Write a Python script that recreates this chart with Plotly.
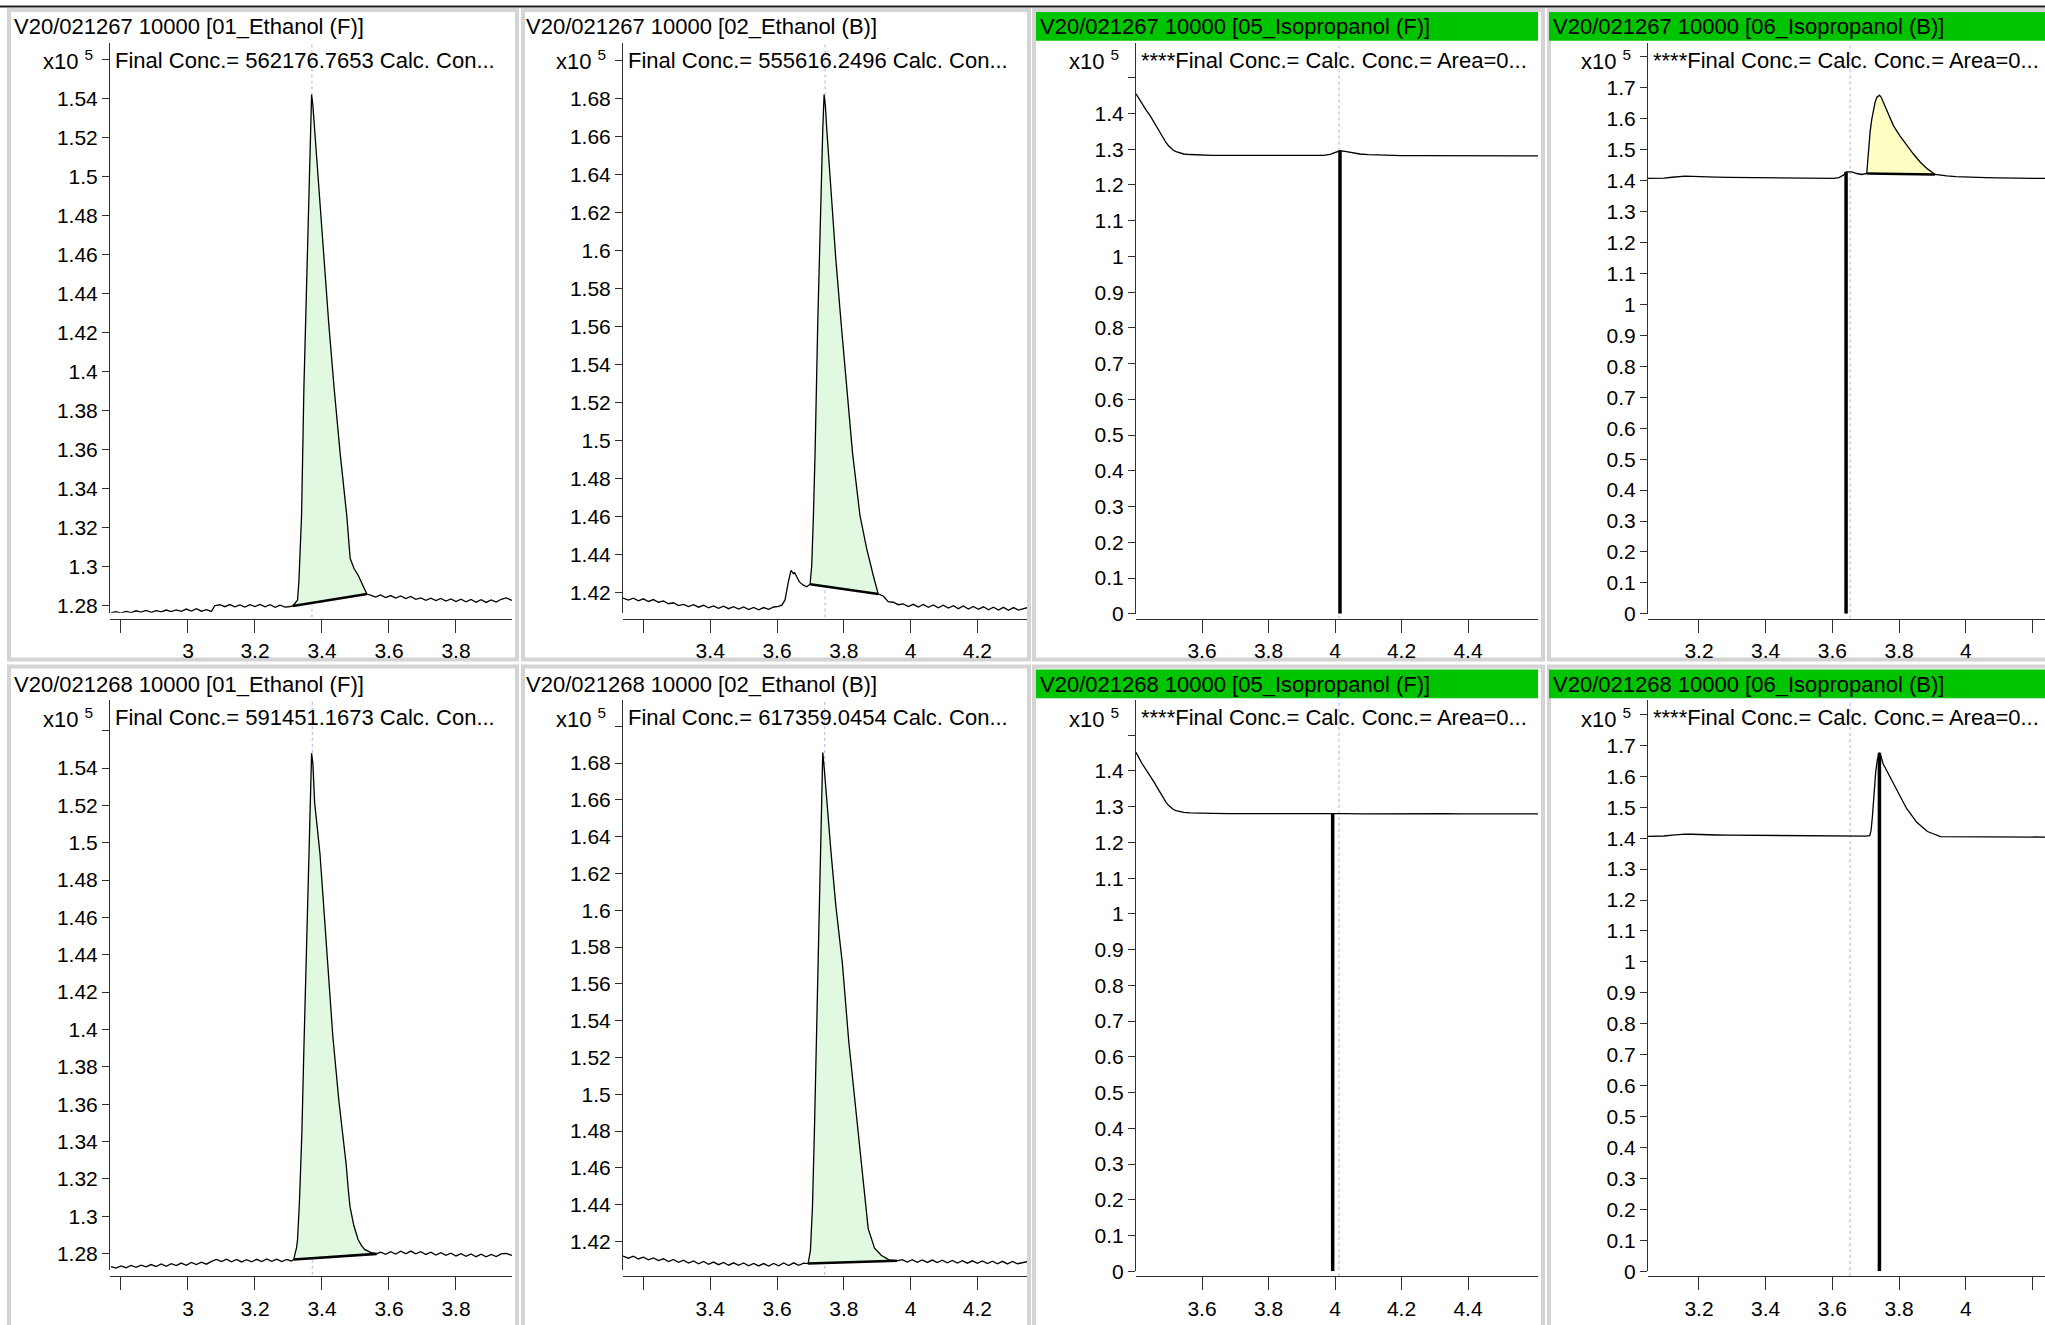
import plotly.graph_objects as go

W, H = 2045, 1325
FONT = "Liberation Sans, Arial, sans-serif"
FS = 22
FS_TICK = 21

# ------------------------------------------------------------------ text
sample_ids = ["V20/021267 10000", "V20/021268 10000"]
compounds = ["01_Ethanol (F)", "02_Ethanol (B)", "05_Isopropanol (F)", "06_Isopropanol (B)"]
info_texts = [
    ["Final Conc.= 562176.7653 Calc. Con...", "Final Conc.= 555616.2496 Calc. Con...",
     "****Final Conc.= Calc. Conc.= Area=0...", "****Final Conc.= Calc. Conc.= Area=0..."],
    ["Final Conc.= 591451.1673 Calc. Con...", "Final Conc.= 617359.0454 Calc. Con...",
     "****Final Conc.= Calc. Conc.= Area=0...", "****Final Conc.= Calc. Conc.= Area=0..."],
]
scale_label = "x10 <sup>5</sup>"

# ------------------------------------------------------------------ data (counts x10^5 vs minutes)
# --- 021267, 01_Ethanol (F)
e1a_pre_x = [2.770, 2.785, 2.800, 2.815, 2.830, 2.845, 2.860, 2.875, 2.890, 2.905, 2.920, 2.935, 2.950,
             2.965, 2.980, 2.995, 3.010, 3.025, 3.040, 3.055, 3.070, 3.080, 3.095, 3.110, 3.125, 3.140,
             3.155, 3.170, 3.185, 3.200, 3.215, 3.230, 3.245, 3.260, 3.275, 3.290, 3.305]
e1a_pre_y = [1.2764, 1.2771, 1.2763, 1.2772, 1.2766, 1.2775, 1.2768, 1.2777, 1.2767, 1.2776, 1.2770,
             1.2779, 1.2771, 1.2780, 1.2772, 1.2784, 1.2774, 1.2786, 1.2773, 1.2781, 1.2772, 1.2801,
             1.2806, 1.2796, 1.2807, 1.2795, 1.2805, 1.2794, 1.2806, 1.2797, 1.2808, 1.2795, 1.2806,
             1.2793, 1.2804, 1.2794, 1.2797]
e1a_pk_x = [3.313, 3.320, 3.327, 3.331, 3.334, 3.339, 3.346, 3.352, 3.357, 3.362, 3.366, 3.369, 3.373,
            3.378, 3.386, 3.394, 3.407, 3.420, 3.436, 3.454, 3.474, 3.484, 3.496, 3.508, 3.520, 3.534]
e1a_pk_y = [1.2800, 1.2815, 1.2830, 1.2923, 1.3093, 1.3262, 1.3917, 1.4340, 1.4711, 1.5030, 1.5290,
            1.5419, 1.5360, 1.5240, 1.5080, 1.4910, 1.4580, 1.4250, 1.3920, 1.3585, 1.3262, 1.3044,
            1.2990, 1.2957, 1.2912, 1.2861]
e1a_post_x = [3.545, 3.560, 3.575, 3.590, 3.605, 3.620, 3.635, 3.650, 3.665, 3.680, 3.695, 3.710, 3.725,
              3.740, 3.755, 3.770, 3.785, 3.800, 3.815, 3.830, 3.845, 3.860, 3.875, 3.890, 3.905, 3.920,
              3.935, 3.950, 3.967]
e1a_post_y = [1.2855, 1.2845, 1.2856, 1.2843, 1.2853, 1.2840, 1.2851, 1.2838, 1.2849, 1.2834, 1.2841,
              1.2829, 1.2840, 1.2827, 1.2838, 1.2825, 1.2836, 1.2822, 1.2834, 1.2821, 1.2833, 1.2819,
              1.2832, 1.2818, 1.2831, 1.2820, 1.2834, 1.2841, 1.2828]

# --- 021268, 01_Ethanol (F)
e1b_pre_x = [2.770, 2.785, 2.800, 2.815, 2.830, 2.845, 2.860, 2.875, 2.890, 2.905, 2.920, 2.935, 2.950,
             2.965, 2.980, 2.995, 3.010, 3.025, 3.040, 3.055, 3.070, 3.085, 3.100, 3.115, 3.130, 3.145,
             3.160, 3.175, 3.190, 3.205, 3.220, 3.235, 3.250, 3.265, 3.280, 3.295, 3.308]
e1b_pre_y = [1.2730, 1.2722, 1.2734, 1.2724, 1.2736, 1.2726, 1.2738, 1.2729, 1.2741, 1.2730, 1.2744,
             1.2732, 1.2746, 1.2735, 1.2749, 1.2737, 1.2752, 1.2741, 1.2754, 1.2743, 1.2758, 1.2768,
             1.2757, 1.2770, 1.2756, 1.2768, 1.2755, 1.2767, 1.2756, 1.2769, 1.2757, 1.2771, 1.2758,
             1.2770, 1.2757, 1.2768, 1.2760]
e1b_pk_x = [3.316, 3.319, 3.324, 3.327, 3.330, 3.332, 3.334, 3.340, 3.346, 3.352, 3.357, 3.362, 3.366,
            3.369, 3.373, 3.378, 3.386, 3.394, 3.405, 3.420, 3.432, 3.450, 3.472, 3.4786, 3.4836, 3.495,
            3.508, 3.518, 3.528, 3.545, 3.563]
e1b_pk_y = [1.2768, 1.2795, 1.2830, 1.2874, 1.2960, 1.3051, 1.3140, 1.3450, 1.3900, 1.4330, 1.4700,
            1.5020, 1.5290, 1.5479, 1.5420, 1.5216, 1.5080, 1.4940, 1.4663, 1.4248, 1.3972, 1.3625,
            1.3280, 1.3140, 1.3051, 1.2950, 1.2874, 1.2842, 1.2821, 1.2806, 1.2798]
e1b_post_x = [3.575, 3.590, 3.605, 3.620, 3.635, 3.650, 3.665, 3.680, 3.695, 3.710, 3.725, 3.740, 3.755,
              3.770, 3.785, 3.800, 3.815, 3.830, 3.845, 3.860, 3.875, 3.890, 3.905, 3.920, 3.935, 3.950,
              3.967]
e1b_post_y = [1.2807, 1.2796, 1.2810, 1.2797, 1.2812, 1.2799, 1.2813, 1.2798, 1.2810, 1.2795, 1.2807,
              1.2792, 1.2804, 1.2790, 1.2802, 1.2787, 1.2799, 1.2785, 1.2798, 1.2783, 1.2796, 1.2782,
              1.2795, 1.2784, 1.2798, 1.2801, 1.2790]

# --- 021267, 02_Ethanol (B)
e2a_pre_x = [3.139, 3.155, 3.170, 3.185, 3.200, 3.215, 3.230, 3.245, 3.260, 3.275, 3.290, 3.305, 3.320,
             3.335, 3.350, 3.365, 3.380, 3.395, 3.410, 3.425, 3.440, 3.455, 3.470, 3.485, 3.500, 3.515,
             3.530, 3.545, 3.560, 3.575, 3.590, 3.605, 3.615, 3.624, 3.634, 3.642, 3.649, 3.653, 3.659,
             3.667, 3.679, 3.689]
e2a_pre_y = [1.4171, 1.4160, 1.4170, 1.4156, 1.4167, 1.4153, 1.4163, 1.4149, 1.4156, 1.4141, 1.4146,
             1.4131, 1.4138, 1.4126, 1.4136, 1.4123, 1.4133, 1.4120, 1.4130, 1.4117, 1.4128, 1.4115,
             1.4126, 1.4113, 1.4124, 1.4110, 1.4122, 1.4109, 1.4121, 1.4112, 1.4124, 1.4127, 1.4135,
             1.4161, 1.4256, 1.4317, 1.4300, 1.4305, 1.4283, 1.4256, 1.4239, 1.4230]
e2a_pk_x = [3.699, 3.704, 3.709, 3.714, 3.722, 3.729, 3.737, 3.741, 3.745, 3.749, 3.762, 3.776, 3.792,
            3.808, 3.826, 3.8485, 3.8685, 3.888, 3.903]
e2a_pk_y = [1.4244, 1.4344, 1.4605, 1.4937, 1.5618, 1.6162, 1.6639, 1.6823, 1.6760, 1.6639, 1.6299,
            1.5958, 1.5618, 1.5277, 1.4937, 1.4605, 1.4431, 1.4291, 1.4192]
e2a_post_x = [3.918, 3.933, 3.948, 3.963, 3.978, 3.993, 4.008, 4.023, 4.038, 4.053, 4.068, 4.083, 4.098,
              4.113, 4.128, 4.143, 4.158, 4.173, 4.188, 4.203, 4.218, 4.233, 4.248, 4.263, 4.278, 4.293,
              4.308, 4.323, 4.3485]
e2a_post_y = [1.4182, 1.4152, 1.4149, 1.4136, 1.4140, 1.4126, 1.4138, 1.4124, 1.4137, 1.4122, 1.4135,
              1.4120, 1.4133, 1.4118, 1.4131, 1.4115, 1.4129, 1.4113, 1.4127, 1.4112, 1.4125, 1.4109,
              1.4123, 1.4108, 1.4122, 1.4107, 1.4121, 1.4108, 1.4120]

# --- 021268, 02_Ethanol (B)
e2b_pre_x = [3.139, 3.155, 3.170, 3.185, 3.200, 3.215, 3.230, 3.245, 3.260, 3.275, 3.290, 3.305, 3.320,
             3.335, 3.350, 3.365, 3.380, 3.395, 3.410, 3.425, 3.440, 3.455, 3.470, 3.485, 3.500, 3.515,
             3.530, 3.545, 3.560, 3.575, 3.590, 3.605, 3.620, 3.635, 3.650, 3.665, 3.680]
e2b_pre_y = [1.4121, 1.4109, 1.4120, 1.4105, 1.4115, 1.4100, 1.4111, 1.4096, 1.4106, 1.4091, 1.4102,
             1.4087, 1.4098, 1.4083, 1.4094, 1.4079, 1.4091, 1.4076, 1.4088, 1.4074, 1.4086, 1.4071,
             1.4084, 1.4070, 1.4083, 1.4068, 1.4081, 1.4067, 1.4080, 1.4066, 1.4081, 1.4068, 1.4083,
             1.4069, 1.4084, 1.4070, 1.4082]
e2b_pk_x = [3.693, 3.700, 3.706, 3.712, 3.718, 3.726, 3.733, 3.737, 3.741, 3.749, 3.762, 3.776, 3.796,
            3.815, 3.835, 3.854, 3.873, 3.892, 3.912, 3.935, 3.959]
e2b_pk_y = [1.4080, 1.4150, 1.4380, 1.4800, 1.5325, 1.6028, 1.6590, 1.6857, 1.6780, 1.6590, 1.6309,
            1.6028, 1.5706, 1.5284, 1.4932, 1.4581, 1.4270, 1.4164, 1.4125, 1.4100, 1.4095]
e2b_post_x = [3.975, 3.990, 4.005, 4.020, 4.035, 4.050, 4.065, 4.080, 4.095, 4.110, 4.125, 4.140, 4.155,
              4.170, 4.185, 4.200, 4.215, 4.230, 4.245, 4.260, 4.275, 4.290, 4.305, 4.320, 4.3485]
e2b_post_y = [1.4101, 1.4088, 1.4101, 1.4087, 1.4100, 1.4086, 1.4099, 1.4085, 1.4098, 1.4084, 1.4097,
              1.4083, 1.4096, 1.4082, 1.4095, 1.4081, 1.4094, 1.4080, 1.4093, 1.4079, 1.4092, 1.4078,
              1.4091, 1.4079, 1.4090]

# --- 021267, 05_Isopropanol (F)  (no integrated peak)
i5a_x = [3.4015, 3.410, 3.420, 3.432, 3.444, 3.455, 3.465, 3.475, 3.484, 3.492, 3.500, 3.507, 3.514,
         3.522, 3.530, 3.545, 3.564, 3.590, 3.630, 3.680, 3.730, 3.780, 3.830, 3.880, 3.930, 3.965,
         3.985, 4.000, 4.015, 4.030, 4.050, 4.075, 4.100, 4.150, 4.200, 4.260, 4.320, 4.380, 4.440,
         4.500, 4.560, 4.6105]
i5a_y = [1.455, 1.441, 1.425, 1.409, 1.394, 1.376, 1.360, 1.344, 1.329, 1.318, 1.309, 1.302, 1.297,
         1.293, 1.290, 1.2865, 1.285, 1.2835, 1.2828, 1.2825, 1.2822, 1.2820, 1.2818, 1.2817, 1.2818,
         1.2825, 1.2855, 1.2910, 1.2955, 1.2940, 1.2900, 1.2865, 1.2845, 1.2830, 1.2822, 1.2818,
         1.2815, 1.2813, 1.2812, 1.2812, 1.2811, 1.2810]

# --- 021268, 05_Isopropanol (F)
i5b_x = [3.4015, 3.410, 3.420, 3.432, 3.444, 3.455, 3.465, 3.475, 3.484, 3.492, 3.500, 3.507, 3.514,
         3.522, 3.530, 3.545, 3.564, 3.590, 3.630, 3.680, 3.730, 3.780, 3.830, 3.880, 3.930, 3.980,
         4.030, 4.080, 4.130, 4.180, 4.230, 4.280, 4.330, 4.380, 4.430, 4.480, 4.530, 4.580, 4.6105]
i5b_y = [1.452, 1.437, 1.420, 1.403, 1.387, 1.370, 1.354, 1.338, 1.323, 1.312, 1.303, 1.297, 1.292,
         1.289, 1.287, 1.284, 1.2828, 1.2818, 1.2812, 1.2808, 1.2810, 1.2805, 1.2808, 1.2803, 1.2806,
         1.2802, 1.2805, 1.2801, 1.2804, 1.2800, 1.2803, 1.2799, 1.2802, 1.2798, 1.2801, 1.2799,
         1.2801, 1.2798, 1.2800]

# --- 021267, 06_Isopropanol (B)
i6a_pre_x = [3.0471, 3.070, 3.095, 3.120, 3.140, 3.158, 3.180, 3.210, 3.250, 3.290, 3.323, 3.370, 3.420,
             3.470, 3.520, 3.570, 3.603, 3.620, 3.633, 3.643, 3.650, 3.658, 3.673, 3.688]
i6a_pre_y = [1.4071, 1.4074, 1.4080, 1.4110, 1.4140, 1.4145, 1.4138, 1.4120, 1.4112, 1.4106, 1.4103,
             1.4098, 1.4092, 1.4088, 1.4082, 1.4076, 1.4071, 1.4100, 1.4177, 1.4284, 1.4295, 1.4284,
             1.4231, 1.4199]
i6a_pk_x = [3.703, 3.708, 3.713, 3.718, 3.723, 3.728, 3.733, 3.737, 3.741, 3.746, 3.753, 3.767, 3.783,
            3.803, 3.823, 3.843, 3.863, 3.885, 3.908]
i6a_pk_y = [1.4231, 1.4926, 1.5567, 1.5980, 1.6314, 1.6530, 1.6688, 1.6745, 1.6763, 1.6700, 1.6528,
            1.6130, 1.5780, 1.5440, 1.5138, 1.4860, 1.4605, 1.4380, 1.4199]
i6a_post_x = [3.925, 3.943, 3.970, 4.000, 4.023, 4.060, 4.100, 4.150, 4.200, 4.2375]
i6a_post_y = [1.4172, 1.4156, 1.4130, 1.4112, 1.4103, 1.4095, 1.4088, 1.4082, 1.4076, 1.4071]

# --- 021268, 06_Isopropanol (B)  (no integrated peak)
i6b_x = [3.0471, 3.070, 3.095, 3.120, 3.140, 3.158, 3.180, 3.210, 3.250, 3.290, 3.330, 3.380, 3.430,
         3.480, 3.530, 3.580, 3.630, 3.670, 3.700, 3.712, 3.716, 3.720, 3.725, 3.730, 3.735, 3.739,
         3.741, 3.745, 3.752, 3.767, 3.795, 3.822, 3.853, 3.885, 3.924, 3.960, 4.000, 4.050, 4.100,
         4.150, 4.200, 4.2375]
i6b_y = [1.4060, 1.4063, 1.4070, 1.4098, 1.4128, 1.4133, 1.4126, 1.4110, 1.4102, 1.4096, 1.4092,
         1.4088, 1.4083, 1.4078, 1.4074, 1.4070, 1.4068, 1.4066, 1.4068, 1.4080, 1.4250, 1.4700,
         1.5500, 1.6150, 1.6550, 1.6740, 1.6760, 1.6680, 1.6400, 1.6096, 1.5513, 1.4968, 1.4510,
         1.4215, 1.4048, 1.4045, 1.4042, 1.4040, 1.4038, 1.4037, 1.4036, 1.4035]

# expected retention time (dotted reference lines), per row/col
expected_rt = [[3.370, 3.744, 4.012, 3.653], [3.371, 3.743, 4.012, 3.653]]
# detected-peak marker lines for isopropanol panels: (rt, height)
marker_rt = [[None, None, 4.015, 3.641], [None, None, 3.993, 3.741]]
marker_h = [[None, None, 1.2955, 1.4284], [None, None, 1.2805, 1.6760]]

# tick values / labels
y_ticks_eth_f = [1.28, 1.30, 1.32, 1.34, 1.36, 1.38, 1.40, 1.42, 1.44, 1.46, 1.48, 1.50, 1.52, 1.54, 1.56]
y_text_eth_f = ["1.28", "1.3", "1.32", "1.34", "1.36", "1.38", "1.4", "1.42", "1.44", "1.46", "1.48",
                "1.5", "1.52", "1.54", ""]
y_ticks_eth_b = [1.42, 1.44, 1.46, 1.48, 1.50, 1.52, 1.54, 1.56, 1.58, 1.60, 1.62, 1.64, 1.66, 1.68, 1.70]
y_text_eth_b = ["1.42", "1.44", "1.46", "1.48", "1.5", "1.52", "1.54", "1.56", "1.58", "1.6", "1.62",
                "1.64", "1.66", "1.68", ""]
y_ticks_ipa_f = [0, 0.1, 0.2, 0.3, 0.4, 0.5, 0.6, 0.7, 0.8, 0.9, 1.0, 1.1, 1.2, 1.3, 1.4, 1.5]
y_text_ipa_f = ["0", "0.1", "0.2", "0.3", "0.4", "0.5", "0.6", "0.7", "0.8", "0.9", "1", "1.1", "1.2",
                "1.3", "1.4", ""]
y_ticks_ipa_b = [0, 0.1, 0.2, 0.3, 0.4, 0.5, 0.6, 0.7, 0.8, 0.9, 1.0, 1.1, 1.2, 1.3, 1.4, 1.5, 1.6, 1.7, 1.8]
y_text_ipa_b = ["0", "0.1", "0.2", "0.3", "0.4", "0.5", "0.6", "0.7", "0.8", "0.9", "1", "1.1", "1.2",
                "1.3", "1.4", "1.5", "1.6", "1.7", ""]
x_ticks = [[2.8, 3.0, 3.2, 3.4, 3.6, 3.8], [3.2, 3.4, 3.6, 3.8, 4.0, 4.2],
           [3.6, 3.8, 4.0, 4.2, 4.4], [3.2, 3.4, 3.6, 3.8, 4.0, 4.2]]
x_text = [["", "3", "3.2", "3.4", "3.6", "3.8"], ["", "3.4", "3.6", "3.8", "4", "4.2"],
          ["3.6", "3.8", "4", "4.2", "4.4"], ["3.2", "3.4", "3.6", "3.8", "4", ""]]

# ------------------------------------------------------------------ panel assembly
E = []
panels = [
    [dict(pre=(e1a_pre_x, e1a_pre_y), pk=(e1a_pk_x, e1a_pk_y), post=(e1a_post_x, e1a_post_y), fill="#e0f9e0"),
     dict(pre=(e2a_pre_x, e2a_pre_y), pk=(e2a_pk_x, e2a_pk_y), post=(e2a_post_x, e2a_post_y), fill="#e0f9e0"),
     dict(pre=(i5a_x, i5a_y), pk=(E, E), post=(E, E), fill=None),
     dict(pre=(i6a_pre_x, i6a_pre_y), pk=(i6a_pk_x, i6a_pk_y), post=(i6a_post_x, i6a_post_y), fill="#ffffc4")],
    [dict(pre=(e1b_pre_x, e1b_pre_y), pk=(e1b_pk_x, e1b_pk_y), post=(e1b_post_x, e1b_post_y), fill="#e0f9e0"),
     dict(pre=(e2b_pre_x, e2b_pre_y), pk=(e2b_pk_x, e2b_pk_y), post=(e2b_post_x, e2b_post_y), fill="#e0f9e0"),
     dict(pre=(i5b_x, i5b_y), pk=(E, E), post=(E, E), fill=None),
     dict(pre=(i6b_x, i6b_y), pk=(E, E), post=(E, E), fill=None)],
]

# layout geometry (pixels)
row_off = [0, 663]
plot_x = [(110, 512), (623, 1027), (1136, 1538), (1648, 2045)]
plot_ybot = [618, 618, 619, 619]
box_x = [(9, 517), (523, 1029), (1034, 1543), (1549, 2062)]
box_y = [(10, 665), (672, 1345)]
title_x = [12, 524, 1038, 1551]
green_x = [None, None, (1036, 1538), (1549, 2045)]
x_ranges = [[2.7672, 3.9672], [3.1389, 4.3485], [3.4015, 4.6105], [3.0471, 4.2375]]
y_ranges = [[[1.27644, 1.56845], [1.4093, 1.7096], [0, 1.598], [0, 1.846]],
            [[1.27098, 1.5764], [1.4043, 1.7142], [0, 1.598], [0, 1.846]]]
y_tick_sets = [(y_ticks_eth_f, y_text_eth_f), (y_ticks_eth_b, y_text_eth_b),
               (y_ticks_ipa_f, y_text_ipa_f), (y_ticks_ipa_b, y_text_ipa_b)]

def px(x):
    return x / W

def py(y):
    return 1 - y / H

fig = go.Figure()
shapes, annotations = [], []
axis_col = "#303030"
tickfont = dict(family=FONT, size=FS_TICK, color="#000")

for r in range(2):
    for c in range(4):
        i = r * 4 + c
        n = "" if i == 0 else str(i + 1)
        xa, ya = "x" + n, "y" + n
        d = panels[r][c]
        off = row_off[r]

        # panel frame
        shapes.append(dict(type="rect", xref="paper", yref="paper",
                           x0=px(box_x[c][0]), x1=px(box_x[c][1]),
                           y0=py(box_y[r][0]), y1=py(box_y[r][1]),
                           line=dict(color="#d4d4d4", width=4), layer="below"))
        if green_x[c]:
            shapes.append(dict(type="rect", xref="paper", yref="paper",
                               x0=px(green_x[c][0]), x1=px(green_x[c][1]),
                               y0=py(12 + off), y1=py(41 + off),
                               fillcolor="#00c400", line=dict(width=0), layer="below"))
        annotations.append(dict(xref="paper", yref="paper", x=px(title_x[c]), y=py(27 + off),
                                xanchor="left", yanchor="middle", showarrow=False,
                                text=f"{sample_ids[r]} [{compounds[c]}]",
                                font=dict(family=FONT, size=FS, color="#000")))
        annotations.append(dict(xref="paper", yref="paper", x=px(plot_x[c][0] - 15), y=py(61 + off),
                                xanchor="right", yanchor="middle", showarrow=False, text=scale_label,
                                font=dict(family=FONT, size=FS, color="#000")))
        annotations.append(dict(xref="paper", yref="paper", x=px(plot_x[c][0] + 3), y=py(61 + off),
                                xanchor="left", yanchor="middle", showarrow=False, text=info_texts[r][c],
                                font=dict(family=FONT, size=FS, color="#000")))

        # expected RT dotted line
        shapes.append(dict(type="line", xref=xa, yref=ya + " domain",
                           x0=expected_rt[r][c], x1=expected_rt[r][c], y0=-0.008, y1=1,
                           line=dict(color="#aeb0ee", width=1, dash="dot"), layer="below"))

        # integrated peak area
        pkx, pky = d["pk"]
        if d["fill"] and pkx:
            fig.add_trace(go.Scatter(x=pkx, y=pky, mode="lines", fill="toself",
                                     fillcolor=d["fill"], line=dict(width=0),
                                     xaxis=xa, yaxis=ya, hoverinfo="skip", showlegend=False))
        xs = d["pre"][0] + pkx + d["post"][0]
        ys = d["pre"][1] + pky + d["post"][1]
        fig.add_trace(go.Scatter(x=xs, y=ys, mode="lines", line=dict(color="#000", width=1.3),
                                 xaxis=xa, yaxis=ya, showlegend=False))
        if d["fill"] and pkx:
            fig.add_trace(go.Scatter(x=[pkx[0], pkx[-1]], y=[pky[0], pky[-1]], mode="lines",
                                     line=dict(color="#000", width=2.6),
                                     xaxis=xa, yaxis=ya, showlegend=False))
        if marker_rt[r][c] is not None:
            fig.add_trace(go.Scatter(x=[marker_rt[r][c], marker_rt[r][c]], y=[0, marker_h[r][c]],
                                     mode="lines", line=dict(color="#000", width=3.5),
                                     xaxis=xa, yaxis=ya, showlegend=False))

        yt, ytx = y_tick_sets[c]
        fig.layout["xaxis" + n] = dict(
            domain=[px(plot_x[c][0]), px(plot_x[c][1])], range=x_ranges[c],
            anchor="free", position=py(624 + off),
            tickmode="array", tickvals=x_ticks[c], ticktext=x_text[c],
            ticks="outside", ticklen=13, tickwidth=1, tickcolor=axis_col,
            showline=True, linecolor=axis_col, linewidth=1, ticklabeloverflow="allow",
            showgrid=False, zeroline=False, tickfont=tickfont, fixedrange=True)
        fig.layout["yaxis" + n] = dict(
            domain=[py(plot_ybot[c] + off), py(43 + off)], range=y_ranges[r][c],
            anchor=xa, tickmode="array", tickvals=yt, ticktext=ytx,
            ticks="outside", ticklen=7, tickwidth=1, tickcolor=axis_col,
            showline=True, linecolor=axis_col, linewidth=1,
            showgrid=False, zeroline=False, tickfont=tickfont, fixedrange=True)

# toolbar separator line at the very top
shapes.append(dict(type="line", xref="paper", yref="paper", x0=0, x1=1, y0=py(6.5), y1=py(6.5),
                   line=dict(color="#202020", width=2)))

fig.update_layout(width=W, height=H, autosize=False,
                  margin=dict(l=0, r=0, t=0, b=0, pad=0),
                  paper_bgcolor="white", plot_bgcolor="rgba(0,0,0,0)",
                  shapes=shapes, annotations=annotations, showlegend=False,
                  font=dict(family=FONT, size=FS, color="#000"))

fig.write_html("out.html", config={"displayModeBar": False},
               post_script="document.body.style.margin='0';document.body.style.overflow='hidden';")
